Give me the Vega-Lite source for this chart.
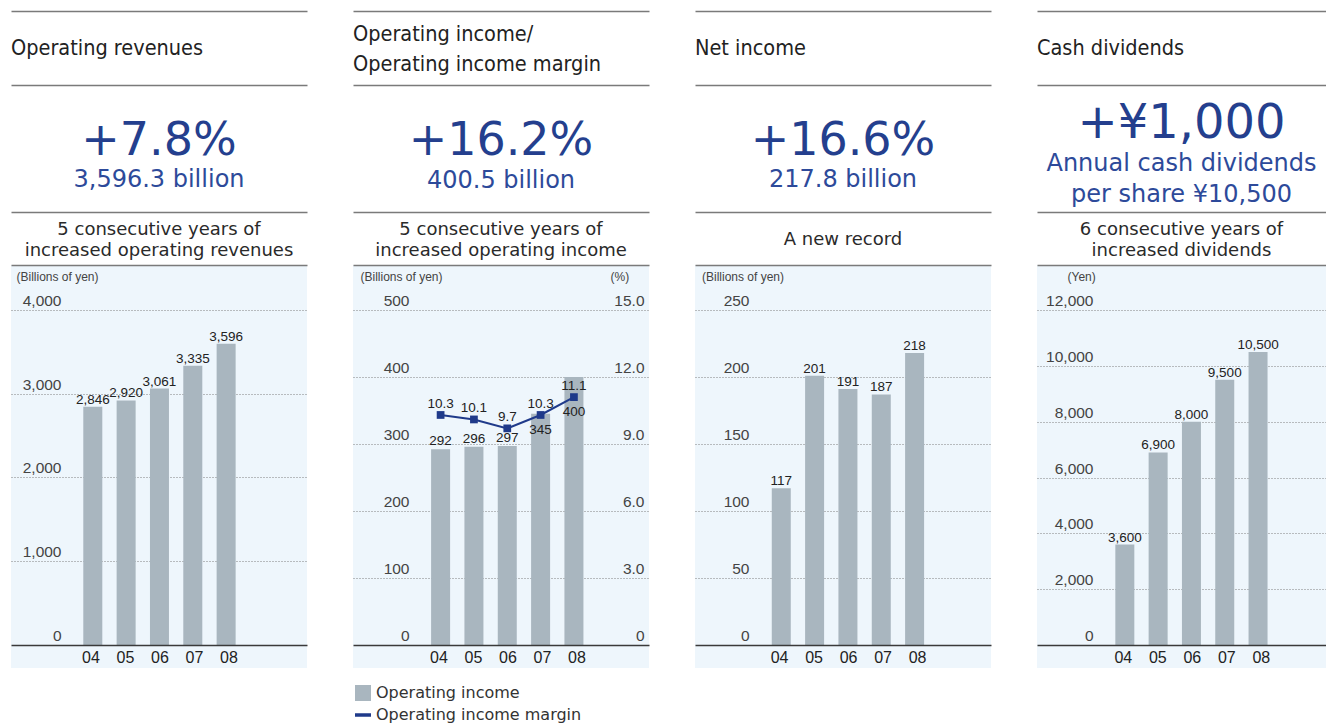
{
  "$schema": "https://vega.github.io/schema/vega-lite/v6.json",
  "padding": {"left": 11, "top": 11, "right": 0, "bottom": 0},
  "background": "white",
  "spacing": 46,
  "resolve": {"scale": {"color": "independent"}},
  "datasets": {
    "revenues": [
      {"year": 2004, "revenue": 2846},
      {"year": 2005, "revenue": 2920},
      {"year": 2006, "revenue": 3061},
      {"year": 2007, "revenue": 3335},
      {"year": 2008, "revenue": 3596}
    ],
    "income": [
      {"year": 2004, "income": 292, "margin": 10.3},
      {"year": 2005, "income": 296, "margin": 10.1},
      {"year": 2006, "income": 297, "margin": 9.7},
      {"year": 2007, "income": 345, "margin": 10.3},
      {"year": 2008, "income": 400, "margin": 11.1}
    ],
    "net": [
      {"year": 2004, "net": 117},
      {"year": 2005, "net": 201},
      {"year": 2006, "net": 191},
      {"year": 2007, "net": 187},
      {"year": 2008, "net": 218}
    ],
    "dividends": [
      {"year": 2004, "dividend": 3600},
      {"year": 2005, "dividend": 6900},
      {"year": 2006, "dividend": 8000},
      {"year": 2007, "dividend": 9500},
      {"year": 2008, "dividend": 10500}
    ]
  },
  "config": {
    "view": {"stroke": null},
    "font": "DejaVu Sans",
    "axis": {"labelFont": "Liberation Sans", "titleFont": "Liberation Sans"}
  },
  "hconcat": [
    {
      "spacing": 0,
      "bounds": "flush",
      "resolve": {"scale": {"color": "independent"}},
      "vconcat": [
        {
          "width": 296, "height": 74,
          "data": {"values": [{"heading": "Operating revenues"}]},
          "mark": {"type": "text", "align": "left", "baseline": "middle", "dy": 1, "font": "DejaVu Sans Condensed, Liberation Sans Narrow, sans-serif", "fontSize": 21.5, "color": "#222222"},
          "encoding": {
            "text": {"field": "heading", "type": "nominal"},
            "x": {"datum": 0, "type": "quantitative", "scale": {"domain": [0, 1], "nice": false, "zero": false}, "axis": {"orient": "top", "domain": true, "domainColor": "#7a7a7a", "domainWidth": 1.5, "ticks": false, "labels": false, "grid": false, "title": null}}
          }
        },
        {
          "width": 296, "height": 127,
          "data": {"values": [{"change": "+7.8%", "amount": "3,596.3 billion"}]},
          "encoding": {
            "x": {"datum": 0.5, "type": "quantitative", "scale": {"domain": [0, 1], "nice": false, "zero": false}, "axis": {"orient": "top", "domain": true, "domainColor": "#7a7a7a", "domainWidth": 1.5, "ticks": false, "labels": false, "grid": false, "title": null}}
          },
          "layer": [
            {"mark": {"type": "text", "baseline": "middle", "dy": -8, "fontSize": 46, "font": "DejaVu Sans", "color": "#243f8e"}, "encoding": {"text": {"field": "change", "type": "nominal"}}},
            {"mark": {"type": "text", "baseline": "middle", "dy": 31, "fontSize": 24, "font": "DejaVu Sans", "color": "#2d4a9a"}, "encoding": {"text": {"field": "amount", "type": "nominal"}}}
          ]
        },
        {
          "width": 296, "height": 53,
          "data": {"values": [{"note": "5 consecutive years of\nincreased operating revenues"}]},
          "mark": {"type": "text", "baseline": "middle", "lineBreak": "\n", "lineHeight": 21, "dy": -9, "fontSize": 18, "font": "DejaVu Sans", "color": "#2a2a2a"},
          "encoding": {
            "text": {"field": "note", "type": "nominal"},
            "x": {"datum": 0.5, "type": "quantitative", "scale": {"domain": [0, 1], "nice": false, "zero": false}, "axis": {"orient": "top", "domain": true, "domainColor": "#7a7a7a", "domainWidth": 1.5, "ticks": false, "labels": false, "grid": false, "title": null}}
          }
        },
        {
          "width": 296, "height": 380,
          "view": {"fill": "#eef6fc", "stroke": null},
          "data": {"name": "revenues"},
          "encoding": {
            "x": {"field": "year", "type": "quantitative", "scale": {"domain": [2001.696, 2010.276], "nice": false, "zero": false}, "axis": {"orient": "top", "domain": true, "domainColor": "#7a7a7a", "domainWidth": 1.5, "ticks": false, "labels": false, "grid": false, "title": null}},
            "y": {"field": "revenue", "type": "quantitative", "scale": {"domain": [0, 4537], "nice": false},
              "axis": {"orient": "left", "values": [0, 1000, 2000, 3000, 4000], "format": ",.0f", "domain": false, "ticks": false, "tickSize": 0, "labelPadding": -50, "labelAlign": "right", "labelBaseline": "alphabetic", "labelOffset": -4.5, "labelFontSize": 15.5, "labelColor": "#444444", "grid": true, "gridColor": "#808080", "gridDash": [1, 2], "gridWidth": 1, "title": "(Billions of yen)", "titleAngle": 0, "titleAlign": "left", "titleBaseline": "top", "titleX": 5, "titleY": 6, "titleFontSize": 12, "titleFontWeight": "normal", "titleColor": "#444444"}}
          },
          "layer": [
            {"mark": {"type": "bar", "orient": "vertical", "width": 19, "color": "#a9b6bf"}},
            {"mark": {"type": "text", "baseline": "alphabetic", "dy": -3, "font": "Liberation Sans", "fontSize": 13.5, "color": "#222222"}, "encoding": {"text": {"field": "revenue", "type": "quantitative", "format": ",.0f"}}}
          ]
        },
        {
          "width": 296, "height": 23,
          "view": {"fill": "#eef6fc", "stroke": null},
          "data": {"name": "revenues"},
          "mark": {"type": "text"},
          "encoding": {
            "x": {"field": "year", "type": "quantitative", "scale": {"domain": [2001.696, 2010.276], "nice": false, "zero": false}, "axis": {"orient": "top", "values": [2004, 2005, 2006, 2007, 2008], "labelExpr": "substring(toString(datum.value), 2)", "domain": true, "domainColor": "#3a3a3a", "domainWidth": 1.3, "ticks": false, "tickSize": 0, "labelPadding": -12, "labelBaseline": "middle", "labelAngle": 0, "labelFontSize": 16, "labelColor": "#222222", "grid": false, "title": null}}
          }
        }
      ]
    },
    {
      "spacing": 0,
      "bounds": "flush",
      "resolve": {"scale": {"color": "independent"}},
      "vconcat": [
        {
          "width": 296, "height": 74,
          "data": {"values": [{"heading": "Operating income/\nOperating income margin"}]},
          "mark": {"type": "text", "align": "left", "baseline": "middle", "lineBreak": "\n", "lineHeight": 30, "dy": -13, "font": "DejaVu Sans Condensed, Liberation Sans Narrow, sans-serif", "fontSize": 21.5, "color": "#222222"},
          "encoding": {
            "text": {"field": "heading", "type": "nominal"},
            "x": {"datum": 0, "type": "quantitative", "scale": {"domain": [0, 1], "nice": false, "zero": false}, "axis": {"orient": "top", "domain": true, "domainColor": "#7a7a7a", "domainWidth": 1.5, "ticks": false, "labels": false, "grid": false, "title": null}}
          }
        },
        {
          "width": 296, "height": 127,
          "data": {"values": [{"change": "+16.2%", "amount": "400.5 billion"}]},
          "encoding": {
            "x": {"datum": 0.5, "type": "quantitative", "scale": {"domain": [0, 1], "nice": false, "zero": false}, "axis": {"orient": "top", "domain": true, "domainColor": "#7a7a7a", "domainWidth": 1.5, "ticks": false, "labels": false, "grid": false, "title": null}}
          },
          "layer": [
            {"mark": {"type": "text", "baseline": "middle", "dy": -8, "fontSize": 46, "font": "DejaVu Sans", "color": "#243f8e"}, "encoding": {"text": {"field": "change", "type": "nominal"}}},
            {"mark": {"type": "text", "baseline": "middle", "dy": 32, "fontSize": 24, "font": "DejaVu Sans", "color": "#2d4a9a"}, "encoding": {"text": {"field": "amount", "type": "nominal"}}}
          ]
        },
        {
          "width": 296, "height": 53,
          "data": {"values": [{"note": "5 consecutive years of\nincreased operating income"}]},
          "mark": {"type": "text", "baseline": "middle", "lineBreak": "\n", "lineHeight": 21, "dy": -9, "fontSize": 18, "font": "DejaVu Sans", "color": "#2a2a2a"},
          "encoding": {
            "text": {"field": "note", "type": "nominal"},
            "x": {"datum": 0.5, "type": "quantitative", "scale": {"domain": [0, 1], "nice": false, "zero": false}, "axis": {"orient": "top", "domain": true, "domainColor": "#7a7a7a", "domainWidth": 1.5, "ticks": false, "labels": false, "grid": false, "title": null}}
          }
        },
        {
          "width": 296, "height": 380,
          "view": {"fill": "#eef6fc", "stroke": null},
          "data": {"name": "income"},
          "encoding": {
            "x": {"field": "year", "type": "quantitative", "scale": {"domain": [2001.522, 2010.102], "nice": false, "zero": false}, "axis": {"orient": "top", "domain": true, "domainColor": "#7a7a7a", "domainWidth": 1.5, "ticks": false, "labels": false, "grid": false, "title": null}}
          },
          "layer": [
            {
              "encoding": {
                "y": {"field": "income", "type": "quantitative", "scale": {"domain": [0, 567.2], "nice": false},
                  "axis": {"orient": "left", "values": [0, 100, 200, 300, 400, 500], "format": ".0f", "domain": false, "ticks": false, "tickSize": 0, "labelPadding": -56, "labelAlign": "right", "labelBaseline": "alphabetic", "labelOffset": -4.5, "labelFontSize": 15.5, "labelColor": "#444444", "grid": true, "gridColor": "#808080", "gridDash": [1, 2], "gridWidth": 1, "title": "(Billions of yen)", "titleAngle": 0, "titleAlign": "left", "titleBaseline": "top", "titleX": 7, "titleY": 6, "titleFontSize": 12, "titleFontWeight": "normal", "titleColor": "#444444"}}
              },
              "layer": [
                {
                  "mark": {"type": "bar", "orient": "vertical", "width": 19},
                  "encoding": {
                    "color": {"datum": "Operating income", "type": "nominal",
                      "scale": {"domain": ["Operating income", "Operating income margin"], "range": ["#a9b6bf", "#1f3a8a"]},
                      "legend": {"orient": "bottom", "direction": "vertical", "title": null, "offset": 40, "padding": 0, "symbolType": "square", "symbolSize": 256, "clipHeight": 16, "labelFont": "DejaVu Sans", "labelFontSize": 16, "labelColor": "#333333", "labelOffset": 3, "labelLimit": 400, "rowPadding": 6,
                        "encode": {"symbols": {"update": {
                          "shape": {"signal": "datum.value === 'Operating income' ? 'square' : 'stroke'"},
                          "stroke": {"signal": "datum.value === 'Operating income' ? 'transparent' : '#1f3a8a'"},
                          "strokeWidth": {"value": 3.3}
                        }}}
                      }
                    }
                  }
                },
                {
                  "transform": [{"filter": "datum.year < 2007"}],
                  "mark": {"type": "text", "baseline": "alphabetic", "dy": -4, "font": "Liberation Sans", "fontSize": 13.5, "color": "#222222"},
                  "encoding": {"text": {"field": "income", "type": "quantitative"}}
                }
              ]
            },
            {
              "encoding": {
                "y": {"field": "margin", "type": "quantitative", "scale": {"domain": [0, 17.015], "nice": false},
                  "axis": {"orient": "right", "values": [0, 3, 6, 9, 12, 15], "labelExpr": "datum.value == 0 ? '0' : format(datum.value, '.1f')", "domain": false, "ticks": false, "tickSize": 0, "labelPadding": -5, "labelAlign": "right", "labelBaseline": "alphabetic", "labelOffset": -4.5, "labelFontSize": 15.5, "labelColor": "#444444", "grid": false, "title": "(%)", "titleAngle": 0, "titleAlign": "left", "titleBaseline": "top", "titleX": -39, "titleY": 6, "titleFontSize": 12, "titleFontWeight": "normal", "titleColor": "#444444"}}
              },
              "layer": [
                {"mark": {"type": "line", "color": "#1f3a8a", "strokeWidth": 2}, "encoding": {}},
                {"mark": {"type": "point", "shape": "square", "filled": true, "size": 60, "color": "#1f3a8a", "opacity": 1}, "encoding": {}},
                {"mark": {"type": "text", "baseline": "alphabetic", "dy": -7, "font": "Liberation Sans", "fontSize": 13.5, "color": "#222222"}, "encoding": {"text": {"field": "margin", "type": "quantitative", "format": ".1f"}}},
                {
                  "transform": [{"filter": "datum.year >= 2007"}],
                  "mark": {"type": "text", "baseline": "alphabetic", "dy": 19, "font": "Liberation Sans", "fontSize": 13.5, "color": "#222222"},
                  "encoding": {"text": {"field": "income", "type": "quantitative"}}
                }
              ]
            }
          ],
          "resolve": {"scale": {"y": "independent"}}
        },
        {
          "width": 296, "height": 23,
          "view": {"fill": "#eef6fc", "stroke": null},
          "data": {"name": "income"},
          "mark": {"type": "text"},
          "encoding": {
            "x": {"field": "year", "type": "quantitative", "scale": {"domain": [2001.522, 2010.102], "nice": false, "zero": false}, "axis": {"orient": "top", "values": [2004, 2005, 2006, 2007, 2008], "labelExpr": "substring(toString(datum.value), 2)", "domain": true, "domainColor": "#3a3a3a", "domainWidth": 1.3, "ticks": false, "tickSize": 0, "labelPadding": -12, "labelBaseline": "middle", "labelAngle": 0, "labelFontSize": 16, "labelColor": "#222222", "grid": false, "title": null}}
          }
        }
      ]
    },
    {
      "spacing": 0,
      "bounds": "flush",
      "resolve": {"scale": {"color": "independent"}},
      "vconcat": [
        {
          "width": 296, "height": 74,
          "data": {"values": [{"heading": "Net income"}]},
          "mark": {"type": "text", "align": "left", "baseline": "middle", "dy": 1, "font": "DejaVu Sans Condensed, Liberation Sans Narrow, sans-serif", "fontSize": 21.5, "color": "#222222"},
          "encoding": {
            "text": {"field": "heading", "type": "nominal"},
            "x": {"datum": 0, "type": "quantitative", "scale": {"domain": [0, 1], "nice": false, "zero": false}, "axis": {"orient": "top", "domain": true, "domainColor": "#7a7a7a", "domainWidth": 1.5, "ticks": false, "labels": false, "grid": false, "title": null}}
          }
        },
        {
          "width": 296, "height": 127,
          "data": {"values": [{"change": "+16.6%", "amount": "217.8 billion"}]},
          "encoding": {
            "x": {"datum": 0.5, "type": "quantitative", "scale": {"domain": [0, 1], "nice": false, "zero": false}, "axis": {"orient": "top", "domain": true, "domainColor": "#7a7a7a", "domainWidth": 1.5, "ticks": false, "labels": false, "grid": false, "title": null}}
          },
          "layer": [
            {"mark": {"type": "text", "baseline": "middle", "dy": -8, "fontSize": 46, "font": "DejaVu Sans", "color": "#243f8e"}, "encoding": {"text": {"field": "change", "type": "nominal"}}},
            {"mark": {"type": "text", "baseline": "middle", "dy": 31, "fontSize": 24, "font": "DejaVu Sans", "color": "#2d4a9a"}, "encoding": {"text": {"field": "amount", "type": "nominal"}}}
          ]
        },
        {
          "width": 296, "height": 53,
          "data": {"values": [{"note": "A new record"}]},
          "mark": {"type": "text", "baseline": "middle", "dy": 1, "fontSize": 18, "font": "DejaVu Sans", "color": "#2a2a2a"},
          "encoding": {
            "text": {"field": "note", "type": "nominal"},
            "x": {"datum": 0.5, "type": "quantitative", "scale": {"domain": [0, 1], "nice": false, "zero": false}, "axis": {"orient": "top", "domain": true, "domainColor": "#7a7a7a", "domainWidth": 1.5, "ticks": false, "labels": false, "grid": false, "title": null}}
          }
        },
        {
          "width": 296, "height": 380,
          "view": {"fill": "#eef6fc", "stroke": null},
          "data": {"name": "net"},
          "encoding": {
            "x": {"field": "year", "type": "quantitative", "scale": {"domain": [2001.562, 2010.142], "nice": false, "zero": false}, "axis": {"orient": "top", "domain": true, "domainColor": "#7a7a7a", "domainWidth": 1.5, "ticks": false, "labels": false, "grid": false, "title": null}},
            "y": {"field": "net", "type": "quantitative", "scale": {"domain": [0, 283.6], "nice": false},
              "axis": {"orient": "left", "values": [0, 50, 100, 150, 200, 250], "format": ".0f", "domain": false, "ticks": false, "tickSize": 0, "labelPadding": -54, "labelAlign": "right", "labelBaseline": "alphabetic", "labelOffset": -4.5, "labelFontSize": 15.5, "labelColor": "#444444", "grid": true, "gridColor": "#808080", "gridDash": [1, 2], "gridWidth": 1, "title": "(Billions of yen)", "titleAngle": 0, "titleAlign": "left", "titleBaseline": "top", "titleX": 6.5, "titleY": 6, "titleFontSize": 12, "titleFontWeight": "normal", "titleColor": "#444444"}}
          },
          "layer": [
            {"mark": {"type": "bar", "orient": "vertical", "width": 19, "color": "#a9b6bf"}},
            {"mark": {"type": "text", "baseline": "alphabetic", "dy": -3, "font": "Liberation Sans", "fontSize": 13.5, "color": "#222222"}, "encoding": {"text": {"field": "net", "type": "quantitative"}}}
          ]
        },
        {
          "width": 296, "height": 23,
          "view": {"fill": "#eef6fc", "stroke": null},
          "data": {"name": "net"},
          "mark": {"type": "text"},
          "encoding": {
            "x": {"field": "year", "type": "quantitative", "scale": {"domain": [2001.562, 2010.142], "nice": false, "zero": false}, "axis": {"orient": "top", "values": [2004, 2005, 2006, 2007, 2008], "labelExpr": "substring(toString(datum.value), 2)", "domain": true, "domainColor": "#3a3a3a", "domainWidth": 1.3, "ticks": false, "tickSize": 0, "labelPadding": -12, "labelBaseline": "middle", "labelAngle": 0, "labelFontSize": 16, "labelColor": "#222222", "grid": false, "title": null}}
          }
        }
      ]
    },
    {
      "spacing": 0,
      "bounds": "flush",
      "resolve": {"scale": {"color": "independent"}},
      "vconcat": [
        {
          "width": 289, "height": 74,
          "data": {"values": [{"heading": "Cash dividends"}]},
          "mark": {"type": "text", "align": "left", "baseline": "middle", "dy": 1, "font": "DejaVu Sans Condensed, Liberation Sans Narrow, sans-serif", "fontSize": 21.5, "color": "#222222"},
          "encoding": {
            "text": {"field": "heading", "type": "nominal"},
            "x": {"datum": 0, "type": "quantitative", "scale": {"domain": [0, 1], "nice": false, "zero": false}, "axis": {"orient": "top", "domain": true, "domainColor": "#7a7a7a", "domainWidth": 1.5, "ticks": false, "labels": false, "grid": false, "title": null}}
          }
        },
        {
          "width": 289, "height": 127,
          "data": {"values": [{"change": "+¥1,000", "amount": "Annual cash dividends\nper share ¥10,500"}]},
          "encoding": {
            "x": {"datum": 0.5, "type": "quantitative", "scale": {"domain": [0, 1], "nice": false, "zero": false}, "axis": {"orient": "top", "domain": true, "domainColor": "#7a7a7a", "domainWidth": 1.5, "ticks": false, "labels": false, "grid": false, "title": null}}
          },
          "layer": [
            {"mark": {"type": "text", "baseline": "middle", "dy": -25, "fontSize": 48, "font": "DejaVu Sans", "color": "#243f8e"}, "encoding": {"text": {"field": "change", "type": "nominal"}}},
            {"mark": {"type": "text", "baseline": "middle", "lineBreak": "\n", "lineHeight": 31.5, "dy": 15, "fontSize": 24, "font": "DejaVu Sans", "color": "#2d4a9a"}, "encoding": {"text": {"field": "amount", "type": "nominal"}}}
          ]
        },
        {
          "width": 289, "height": 53,
          "data": {"values": [{"note": "6 consecutive years of\nincreased dividends"}]},
          "mark": {"type": "text", "baseline": "middle", "lineBreak": "\n", "lineHeight": 21, "dy": -9, "fontSize": 18, "font": "DejaVu Sans", "color": "#2a2a2a"},
          "encoding": {
            "text": {"field": "note", "type": "nominal"},
            "x": {"datum": 0.5, "type": "quantitative", "scale": {"domain": [0, 1], "nice": false, "zero": false}, "axis": {"orient": "top", "domain": true, "domainColor": "#7a7a7a", "domainWidth": 1.5, "ticks": false, "labels": false, "grid": false, "title": null}}
          }
        },
        {
          "width": 289, "height": 380,
          "view": {"fill": "#eef6fc", "stroke": null},
          "data": {"name": "dividends"},
          "encoding": {
            "x": {"field": "year", "type": "quantitative", "scale": {"domain": [2001.513, 2009.89], "nice": false, "zero": false}, "axis": {"orient": "top", "domain": true, "domainColor": "#7a7a7a", "domainWidth": 1.5, "ticks": false, "labels": false, "grid": false, "title": null}},
            "y": {"field": "dividend", "type": "quantitative", "scale": {"domain": [0, 13612], "nice": false},
              "axis": {"orient": "left", "values": [0, 2000, 4000, 6000, 8000, 10000, 12000], "format": ",.0f", "domain": false, "ticks": false, "tickSize": 0, "labelPadding": -56, "labelAlign": "right", "labelBaseline": "alphabetic", "labelOffset": -4.5, "labelFontSize": 15.5, "labelColor": "#444444", "grid": true, "gridColor": "#808080", "gridDash": [1, 2], "gridWidth": 1, "title": "(Yen)", "titleAngle": 0, "titleAlign": "left", "titleBaseline": "top", "titleX": 30, "titleY": 6, "titleFontSize": 12, "titleFontWeight": "normal", "titleColor": "#444444"}}
          },
          "layer": [
            {"mark": {"type": "bar", "orient": "vertical", "width": 19, "color": "#a9b6bf"}},
            {"mark": {"type": "text", "baseline": "alphabetic", "dy": -3, "font": "Liberation Sans", "fontSize": 13.5, "color": "#222222"}, "encoding": {"text": {"field": "dividend", "type": "quantitative", "format": ",.0f"}}}
          ]
        },
        {
          "width": 289, "height": 23,
          "view": {"fill": "#eef6fc", "stroke": null},
          "data": {"name": "dividends"},
          "mark": {"type": "text"},
          "encoding": {
            "x": {"field": "year", "type": "quantitative", "scale": {"domain": [2001.513, 2009.89], "nice": false, "zero": false}, "axis": {"orient": "top", "values": [2004, 2005, 2006, 2007, 2008], "labelExpr": "substring(toString(datum.value), 2)", "domain": true, "domainColor": "#3a3a3a", "domainWidth": 1.3, "ticks": false, "tickSize": 0, "labelPadding": -12, "labelBaseline": "middle", "labelAngle": 0, "labelFontSize": 16, "labelColor": "#222222", "grid": false, "title": null}}
          }
        }
      ]
    }
  ]
}
